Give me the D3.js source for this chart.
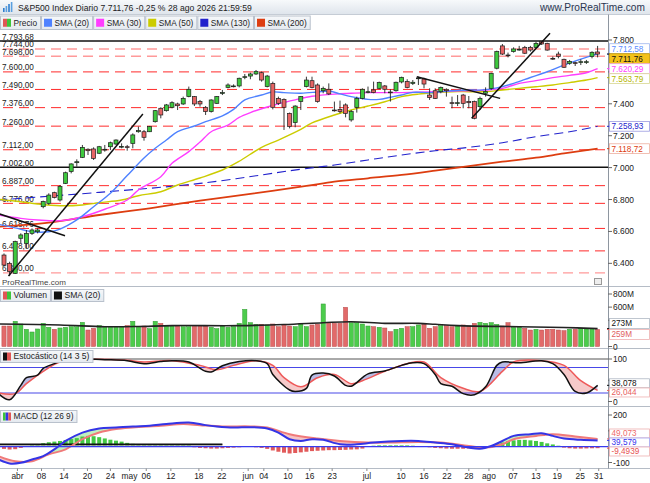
<!DOCTYPE html>
<html><head><meta charset="utf-8">
<script src="https://cdn.jsdelivr.net/npm/d3@7"></script>
<style>body{margin:0;background:#fff}svg{display:block;font-family:"Liberation Sans",Arial,sans-serif}</style>
</head><body><svg id="c" width="650" height="483"></svg>
<script>
// ---------------- DATA ----------------
const titleText = "S&P500 Index Diario 7.711,76 -0,25 % 28 ago 2026 21:59:59";
const siteText = "www.ProRealTime.com";
const opens = [6452,6400,6337,6557,6525,6588,6598,6755,6776,6843,6797,6901,6975,7031,7064,7115,7117,7090,7110,7131,7148,7131,7131,7152,7225,7225,7225,7288,7372,7357,7378,7399,7399,7445,7445,7414,7378,7351,7403,7466,7503,7508,7512,7566,7574,7587,7595,7508,7528,7434,7428,7340,7282,7414,7508,7545,7518,7482,7491,7361,7365,7393,7299,7378,7434,7470,7487,7497,7512,7474,7482,7537,7539,7528,7558,7556,7455,7482,7476,7491,7407,7403,7455,7414,7414,7382,7466,7497,7623,7763,7706,7727,7740,7754,7754,7754,7790,7779,7685,7712,7679,7654,7658,7660,7660,7696,7725];
const highs = [6462,6410,6542,6588,6609,6619,6619,6793,6839,6849,6891,6975,7027,7052,7142,7121,7127,7136,7142,7163,7177,7152,7142,7215,7257,7236,7261,7361,7378,7399,7416,7407,7445,7508,7449,7424,7386,7428,7449,7487,7528,7522,7564,7587,7595,7612,7602,7581,7539,7445,7434,7345,7391,7449,7570,7570,7528,7508,7528,7414,7420,7403,7361,7445,7497,7508,7539,7539,7518,7491,7539,7570,7554,7549,7570,7564,7497,7497,7508,7497,7445,7455,7462,7449,7420,7445,7503,7595,7733,7775,7721,7754,7763,7763,7763,7790,7793.68,7783,7696,7727,7683,7675,7664,7679,7675,7729,7763];
const lows = [6379,6320,6333,6525,6494,6578,6588,6745,6766,6807,6787,6897,6964,7006,7060,7079,7048,7085,7100,7110,7142,7121,7106,7121,7219,7169,7223,7282,7309,7351,7372,7361,7393,7441,7386,7382,7330,7345,7399,7455,7497,7503,7503,7554,7554,7581,7539,7503,7365,7393,7236,7246,7253,7361,7503,7497,7407,7466,7455,7351,7340,7315,7288,7345,7428,7466,7466,7491,7466,7414,7476,7528,7497,7518,7518,7497,7424,7430,7466,7445,7372,7386,7372,7372,7303,7361,7445,7487,7616,7706,7691,7721,7733,7712,7727,7748,7769,7733,7675,7685,7625,7645,7637,7643,7650,7685,7691];
const closes = [6389,6348,6536,6578,6588,6609,6609,6787,6828,6812,6881,6968,7023,7037,7127,7106,7058,7131,7115,7156,7173,7133,7129,7205,7232,7190,7257,7357,7330,7393,7407,7388,7434,7491,7399,7399,7351,7424,7445,7470,7518,7512,7560,7570,7587,7602,7549,7574,7378,7403,7378,7257,7386,7445,7549,7503,7414,7497,7462,7359,7351,7340,7351,7434,7491,7476,7470,7533,7491,7470,7535,7566,7503,7535,7562,7524,7439,7434,7503,7482,7403,7407,7403,7407,7309,7434,7476,7591,7727,7712,7702,7744,7742,7717,7737,7779,7775,7737,7681,7696,7629,7666,7654,7664,7664,7723,7711.76];
const volumes = [312,312,384,343,262,221,267,353,292,262,282,292,302,302,368,251,277,318,302,302,302,302,318,384,302,312,272,384,353,318,318,312,302,302,318,318,312,292,272,312,292,302,353,566,363,338,338,328,343,302,338,312,302,343,302,328,338,648,363,353,353,597,363,363,343,312,302,292,282,226,262,277,302,302,328,338,277,302,318,318,302,312,328,312,353,368,353,363,338,312,363,292,292,277,251,262,251,262,262,251,241,262,262,277,267,277,259];
// [day index, value]
const sma20 = [[-1,6645],[2,6622],[5,6598],[8,6598],[10,6615],[13,6672],[16,6755],[19,6839],[22,6950],[25,7060],[27,7121],[29,7173],[31,7225],[34,7261],[36,7288],[39,7324],[41,7365],[43,7424],[46,7455],[48,7474],[50,7470],[53,7466],[56,7474],[58,7480],[60,7462],[62,7445],[65,7428],[67,7428],[69,7441],[71,7455],[73,7472],[76,7470],[78,7476],[80,7482],[83,7487],[85,7486],[88,7500],[91,7528],[94,7565],[97,7601],[100,7643],[103,7680],[106,7712.58]];
const sma30 = [[-1,6703],[3,6682],[6,6672],[10,6667],[14,6692],[18,6739],[22,6797],[24,6860],[28,6943],[30,7027],[33,7100],[35,7160],[37,7225],[40,7267],[42,7315],[44,7345],[47,7380],[49,7400],[52,7425],[55,7447],[59,7461],[62,7466],[65,7470],[68,7470],[71,7470],[74,7472],[77,7476],[80,7480],[83,7482],[86,7487],[89,7497],[92,7528],[95,7545],[98,7564],[101,7578],[104,7595],[106,7620.29]];
const sma50 = [[-1,6801],[3,6786],[6,6772],[10,6761],[14,6766],[17,6780],[21,6797],[24,6824],[28,6849],[31,6891],[35,6935],[39,6985],[42,7040],[46,7127],[49,7173],[53,7240],[55,7280],[59,7330],[62,7361],[65,7386],[68,7413],[71,7445],[74,7461],[77,7470],[80,7476],[83,7476],[86,7476],[89,7487],[92,7497],[95,7507],[98,7518],[101,7533],[104,7549],[106,7563.79]];
const sma130 = [[-1,6797],[17,6845],[35,6901],[53,6990],[59,7016],[65,7048],[71,7079],[77,7106],[83,7127],[89,7156],[95,7194],[101,7225],[106,7258.93]];
const sma200 = [[-1,6630],[8,6655],[17,6703],[26,6745],[35,6793],[44,6835],[54,6885],[59,6912],[65,6933],[71,6954],[77,6981],[83,7010],[89,7037],[95,7062],[100,7089],[106,7118.72]];
const volSma = [[-1,343],[10,328],[18,302],[24,305],[30,318],[42,318],[50,335],[57,363],[62,378],[68,353],[74,353],[77,338],[81,318],[92,302],[100,290],[106,273]];
const stochK = [[-1,18.5],[1,4],[3,38],[4,56],[6,62],[7,78],[9,89],[11,98.5],[14,100],[18,98.5],[22,96],[25,89],[28,94],[30,96],[33,93],[36,71],[37,69.5],[39,84],[42,94],[45,96],[47,89],[48,63.6],[51,27],[52,23.6],[54,31],[55,62],[57,67],[59,60],[61,38],[62,36],[65,65],[68,72],[71,85],[73,91],[75,89],[77,63.6],[78,42],[80,36],[82,18.5],[84,16],[86,34.5],[88,85],[89,93],[92,91],[96,96],[98,89],[100,63.6],[102,23.6],[104,20],[106,38.078]];
const stochD = [[-1,20],[2,18.5],[4,42],[7,71],[10,93],[14,98.5],[22,97],[25,93],[30,96],[35,85],[38,74.5],[41,85],[45,96],[48,85],[50,56],[53,34.5],[56,56],[59,63.6],[62,42],[64,49],[68,71],[72,89],[75,93],[78,56],[82,31],[85,23.6],[89,71],[91,93],[96,96],[100,85],[103,49],[106,26.044]];
const macdLine = [[-1,-81],[1,-106],[3,-102],[5,-81],[7,-60],[9,-17],[11,36],[14,89],[17,115],[20,121],[23,128],[26,132],[29,143],[33,153],[36,136],[38,128],[41,121],[44,123],[47,115],[49,89],[51,47],[53,36],[55,47],[57,43],[60,15],[63,15],[66,26],[71,36],[74,36],[77,26],[80,15],[83,-6],[85,-13],[87,4],[89,36],[91,68],[94,79],[96,85],[98,68],[100,51],[103,43],[106,39.579]];
const macdSignal = [[-1,-60],[2,-92],[5,-92],[8,-49],[11,-17],[14,47],[17,89],[20,111],[23,121],[28,132],[32,143],[35,136],[39,128],[44,128],[47,121],[51,79],[56,51],[60,36],[65,26],[69,26],[74,30],[78,26],[83,4],[86,-6],[89,15],[91,47],[95,68],[98,79],[102,64],[106,49.073]];
const macdHist = [-14,-18,-16,-8,4,10,16,22,28,32,36,42,48,54,64,68,66,60,52,44,38,32,24,18,15,14,14,14,13,13,13,12,12,12,-4,-8,-10,-12,-12,-10,-8,-6,-4,-2,-2,-4,-8,-14,-24,-32,-38,-43,-40,-36,-32,-28,-26,-24,-22,-22,-21,-20,-18,-17,-12,2,6,8,8,8,8,8,8,6,4,2,-4,-8,-10,-12,-13,-13,-13,-12,-14,-12,-8,4,16,26,34,40,43,43,40,36,30,21,14,6,-6,-10,-12,-12,-11,-10,-9.4939];
const macdDrawn = [[[-1,16],[39,16]],[[-1,11],[39,11]]];
const trendLines = [[[0.8,6320],[24.8,7336]],[[-1,6712],[10.9,6573]],[[73.7,7570],[88.6,7434]],[[83.5,7309],[97.5,7842]]];
const majorLevels = [7793.68,7002];
const softLevels = [7744,7698,6340];
const redLevels = [7600,7490,7376,7260,7112,6887,6776,6618.76,6478];
const priceTicks = [6400,6600,6800,7000,7200,7400,7600,7800];
const volTicks = [0,400,600,800];
const stochTicks = [0,50,100];
const macdTicks = [-100,100,200];
const xTickIdx = [2.4,6.7,10.7,14.9,19,22.4,25.4,29.8,34.8,38.9,43.6,46.4,50.7,54.6,58.6,64.8,70.9,75,79.1,83,86.6,90.9,95,98.8,102.9,106.2];
const xTickLabels = ["abr","08","14","20","24","may","06","12","18","22","jun","04","10","16","23","jul","10","16","22","28","ago","07","13","19","25","31"];
const priceLegend = ["Precio","SMA (20)","SMA (30)","SMA (50)","SMA (130)","SMA (200)"];
const lastPrice = 7711.76;
const lastVol = 259, lastVolSma = 273;

// ---------------- SETUP ----------------
const svg = d3.select("#c");
const loc = d3.formatLocale({decimal:",",thousands:".",grouping:[3],currency:["",""],minus:"-"});
const f2 = loc.format(",.2f"), f0 = loc.format(",.0f"), f3 = loc.format(".3f"), f4 = loc.format(".4f");
const AX = 608;
const x = d3.scaleLinear().domain([0,106]).range([4,597.6]);
const yP = d3.scaleLinear().domain([6340,7800]).range([272.9,40]);
const yV = d3.scaleLinear().domain([0,800]).range([346.5,294]);
const yS = d3.scaleLinear().domain([0,100]).range([401.5,359]);
const yM = d3.scaleLinear().domain([-100,200]).range([462.5,415]);
const panels = {main:[14,286.5], vol:[286.5,348.5], sto:[348.5,406.5], mac:[406.5,468.5]};
const defs = svg.append("defs");
Object.entries(panels).forEach(([k,[a,b]])=>{
  defs.append("clipPath").attr("id","cl_"+k).append("rect").attr("x",0).attr("y",a).attr("width",AX).attr("height",b-a);
});
const grad = defs.append("linearGradient").attr("id","hg").attr("x1",0).attr("y1",0).attr("x2",0).attr("y2",1);
grad.append("stop").attr("offset","0").attr("stop-color","#f7f9fb");
grad.append("stop").attr("offset","1").attr("stop-color","#dfe5ec");
const lg = defs.append("linearGradient").attr("id","lg").attr("x1",0).attr("y1",0).attr("x2",0).attr("y2",1);
lg.append("stop").attr("offset","0").attr("stop-color","#f6f8fa");
lg.append("stop").attr("offset","1").attr("stop-color","#e4e9ef");

svg.append("rect").attr("width",650).attr("height",483).attr("fill","#fff");

const lineOf = (ys, curve=d3.curveCatmullRom) => d3.line().x(d=>x(d[0])).y(d=>ys(d[1])).curve(curve);
function fit(sel, target){
  const fs = +sel.attr("font-size");
  const w = sel.node().getComputedTextLength();
  if (w > 0) sel.attr("font-size", (fs*target/w).toFixed(2));
  return sel;
}

// ---------------- HEADER ----------------
svg.append("rect").attr("x",0).attr("y",0).attr("width",650).attr("height",14).attr("fill","url(#hg)");
svg.append("line").attr("x1",0).attr("x2",650).attr("y1",14.5).attr("y2",14.5).attr("stroke","#c5ccd5");
[4,6,8,10].forEach((h,k)=>svg.append("rect").attr("x",3+k*2.6).attr("y",12-h).attr("width",1.6).attr("height",h).attr("fill",k%2?"#5aa0e0":"#2f7fd0"));
fit(svg.append("text").attr("x",18).attr("y",10.6).attr("font-size",9).attr("fill","#222").text(titleText), 234);
fit(svg.append("text").attr("x",540).attr("y",10.6).attr("font-size",9).attr("fill","#2a3550").text(siteText), 105);

// legend helper
function legend(items, y0, h, fs){
  let cx = 0;
  items.forEach(it=>{
    const g = svg.append("g");
    const r = g.append("rect").attr("x",cx+0.5).attr("y",y0+0.5).attr("height",h).attr("fill","url(#lg)").attr("stroke","#b9c1cc");
    it.icon(g, cx+3, y0+(h-8)/2+0.5);
    const t = g.append("text").attr("x",cx+13.5).attr("y",y0+h/2+3.4).attr("font-size",fs).attr("fill","#1e1e1e").text(it.label);
    const w = 13.5 + t.node().getComputedTextLength() + 3;
    r.attr("width",w);
    cx += w + 1;
  });
}
const sq = c => (g,px,py)=>g.append("rect").attr("x",px).attr("y",py).attr("width",8).attr("height",8).attr("fill",c);
const split = (cs) => (g,px,py)=>cs.forEach((c,k)=>g.append("rect").attr("x",px+k*8/cs.length).attr("y",py).attr("width",8/cs.length).attr("height",8).attr("fill",c));

// ---------------- MAIN PANEL ----------------
const smaColors = ["#4f82ff","#ff3dff","#cccc00","#2222cc","#dd3d10"];
legend([
  {label:priceLegend[0], icon:split(["#e05656","#3cc43c"])},
  {label:priceLegend[1], icon:sq(smaColors[0])},
  {label:priceLegend[2], icon:sq(smaColors[1])},
  {label:priceLegend[3], icon:sq(smaColors[2])},
  {label:priceLegend[4], icon:sq(smaColors[3])},
  {label:priceLegend[5], icon:sq(smaColors[4])}
], 15.5, 13.5, 8.3);

const gm = svg.append("g").attr("clip-path","url(#cl_main)");
redLevels.forEach(v=>gm.append("line").attr("x1",3).attr("x2",AX).attr("y1",yP(v)).attr("y2",yP(v)).attr("stroke","#ff2a2a").attr("stroke-width",1).attr("stroke-dasharray","10,6"));
softLevels.forEach(v=>gm.append("line").attr("x1",3).attr("x2",AX).attr("y1",yP(v)).attr("y2",yP(v)).attr("stroke","#ff9a9a").attr("stroke-width",1.4).attr("stroke-dasharray","10,6"));
majorLevels.forEach(v=>gm.append("line").attr("x1",0).attr("x2",AX).attr("y1",yP(v)).attr("y2",yP(v)).attr("stroke","#111").attr("stroke-width",1.5));
majorLevels.concat(softLevels, redLevels).forEach(v=>{
  gm.append("text").attr("x",2).attr("y",yP(v)-1.5).attr("font-size",8.2).attr("fill","#222").text(f2(v));
});
[[sma200,4,1.8,null],[sma130,3,1.1,"9,5"],[sma50,2,1.4,null],[sma30,1,1.4,null],[sma20,0,1.4,null]].forEach(([d,ci,w,da])=>{
  gm.append("path").attr("d",lineOf(yP)(d)).attr("fill","none").attr("stroke",smaColors[ci]).attr("stroke-width",w).attr("stroke-dasharray",da);
});
const idx = d3.range(opens.length);
const up = i => closes[i] >= opens[i];
gm.selectAll(".wk").data(idx).join("line").attr("x1",i=>x(i)).attr("x2",i=>x(i)).attr("y1",i=>yP(highs[i])).attr("y2",i=>yP(lows[i])).attr("stroke","#222").attr("stroke-width",0.9);
gm.selectAll(".bd").data(idx).join("rect")
  .attr("x",i=>x(i)-2).attr("width",4)
  .attr("y",i=>yP(Math.max(opens[i],closes[i])))
  .attr("height",i=>Math.max(0.8,Math.abs(yP(opens[i])-yP(closes[i]))))
  .attr("fill",i=>up(i)?"#3ec83e":"#e66464").attr("stroke","#1d1d1d").attr("stroke-width",0.7);
trendLines.forEach(t=>gm.append("path").attr("d",lineOf(yP,d3.curveLinear)(t)).attr("stroke","#111").attr("stroke-width",1.5).attr("fill","none"));
fit(svg.append("text").attr("x",2).attr("y",284.5).attr("font-size",9).attr("fill","#444").text("ProRealTime.com"), 64);
svg.append("rect").attr("x",594.5).attr("y",278.5).attr("width",7).attr("height",6).attr("fill","#eee").attr("stroke","#999");

// ---------------- VOLUME ----------------
const gv = svg.append("g").attr("clip-path","url(#cl_vol)");
gv.selectAll(".vb").data(idx).join("rect")
  .attr("x",i=>x(i)-2.1).attr("width",4.2)
  .attr("y",i=>yV(volumes[i])).attr("height",i=>yV(0)-yV(volumes[i]))
  .attr("fill",i=>up(i)?"#4ccc4c":"#e26a6a").attr("stroke",i=>up(i)?"#2f9a2f":"#b84a4a").attr("stroke-width",0.5);
gv.append("path").attr("d",lineOf(yV)(volSma)).attr("fill","none").attr("stroke","#222").attr("stroke-width",1.6);
legend([{label:"Volumen",icon:split(["#e05656","#3cc43c"])},{label:"SMA (20)",icon:sq("#111")}], 289, 12, 8.6);

// ---------------- STOCHASTIC ----------------
const gs = svg.append("g").attr("clip-path","url(#cl_sto)");
function diffFill(g, a, b, ys, cAbove, cBelow, id, top, bot){
  const L = lineOf(ys);
  const poly = L(a) + "L" + L(b.slice().reverse()).slice(1) + "Z";
  const bl = L(b);
  const x0 = x(b[0][0]), x1 = x(b[b.length-1][0]);
  defs.append("clipPath").attr("id",id+"a").append("path").attr("d",bl+`L${x1},${top}L${x0},${top}Z`);
  defs.append("clipPath").attr("id",id+"b").append("path").attr("d",bl+`L${x1},${bot}L${x0},${bot}Z`);
  g.append("path").attr("d",poly).attr("fill",cAbove).attr("clip-path",`url(#${id}a)`);
  g.append("path").attr("d",poly).attr("fill",cBelow).attr("clip-path",`url(#${id}b)`);
}
diffFill(gs, stochK, stochD, yS, "#b9bce6", "#f6c9c9", "sf", 300, 420);
gs.append("line").attr("x1",0).attr("x2",AX).attr("y1",yS(100)).attr("y2",yS(100)).attr("stroke","#555").attr("stroke-width",1);
[80,20].forEach(v=>gs.append("line").attr("x1",0).attr("x2",AX).attr("y1",yS(v)).attr("y2",yS(v)).attr("stroke","#4848e8").attr("stroke-width",1.1));
gs.append("path").attr("d",lineOf(yS)(stochD)).attr("fill","none").attr("stroke","#ee5a5a").attr("stroke-width",1.5);
gs.append("path").attr("d",lineOf(yS)(stochK)).attr("fill","none").attr("stroke","#111").attr("stroke-width",1.5);
legend([{label:"Estocástico (14 3 5)",icon:split(["#111","#e05656"])}], 350, 12, 8.6);

// ---------------- MACD ----------------
const gc = svg.append("g").attr("clip-path","url(#cl_mac)");
diffFill(gc, macdLine, macdSignal, yM, "#bff0bf", "#f5c4c4", "mf", 380, 480);
gc.selectAll(".hb").data(idx).join("rect")
  .attr("x",i=>x(i)-2).attr("width",4)
  .attr("y",i=>Math.min(yM(0),yM(macdHist[i]))).attr("height",i=>Math.abs(yM(macdHist[i])-yM(0)))
  .attr("fill",i=>macdHist[i]>=0?"#44c844":"#e25a5a");
gc.append("path").attr("d",lineOf(yM,d3.curveLinear)(macdDrawn[1])).attr("stroke","#9a9a9a").attr("stroke-width",1.5);
gc.append("path").attr("d",lineOf(yM,d3.curveLinear)(macdDrawn[0])).attr("stroke","#111").attr("stroke-width",1.5);
gc.append("path").attr("d",lineOf(yM)(macdSignal)).attr("fill","none").attr("stroke","#f07a7a").attr("stroke-width",2);
gc.append("path").attr("d",lineOf(yM)(macdLine)).attr("fill","none").attr("stroke","#3434e6").attr("stroke-width",2);
gc.append("line").attr("x1",0).attr("x2",AX).attr("y1",yM(0)).attr("y2",yM(0)).attr("stroke","#3a3aee").attr("stroke-width",1.2);
legend([{label:"MACD (12 26 9)",icon:split(["#3cc43c","#3434e6","#e05656"])}], 410, 12, 8.3);

// ---------------- FRAME ----------------
[286.5,348.5,406.5,468.5].forEach(yy=>svg.append("line").attr("x1",0).attr("x2",650).attr("y1",yy).attr("y2",yy).attr("stroke","#b5bcc6"));
svg.append("line").attr("x1",AX+0.5).attr("x2",AX+0.5).attr("y1",14.5).attr("y2",468.5).attr("stroke","#8e96a0");

// ---------------- RIGHT AXES ----------------
const axisG = svg.append("g").attr("font-size",8.4).attr("fill","#222");
function spread(items, gap){
  items.sort((a,b)=>a.y-b.y);
  for(let it=0; it<40; it++){
    for(let k=1;k<items.length;k++){
      const d = items[k].y - items[k-1].y;
      if(d<gap){ const s=(gap-d)/2; items[k-1].y-=s; items[k].y+=s; }
    }
  }
  return items;
}
function axisWithBoxes(ys, vals, fmt, items, gap, bh){
  spread(items, gap);
  vals.forEach(v=>{
    axisG.append("line").attr("x1",AX).attr("x2",AX+4).attr("y1",ys(v)).attr("y2",ys(v)).attr("stroke","#666");
    const hidden = items.some(b=>Math.abs(b.y-ys(v))<bh/2+3.5);
    if(!hidden) axisG.append("text").attr("x",AX+5).attr("y",ys(v)+3).text(fmt(v));
  });
  items.forEach(b=>{
    axisG.append("line").attr("x1",AX-1).attr("x2",AX+2).attr("y1",b.v).attr("y2",b.v).attr("stroke",b.c);
    axisG.append("rect").attr("x",AX+1.5).attr("y",b.y-bh/2).attr("width",40).attr("height",bh).attr("fill",b.bg||"#fff").attr("stroke",b.bc||"#b0b8c4").attr("stroke-width",0.8);
    axisG.append("text").attr("x",AX+3.5).attr("y",b.y+2.9).attr("font-size",8.2).attr("fill",b.c).text(b.t);
  });
}
const lastOf = a => a[a.length-1][1];
const bx = (ys, v, t, c, bc, bg, nudge=0) => ({y:ys(v)+nudge, v:ys(v), t, c, bc, bg});
axisWithBoxes(yP, priceTicks, f0, [
  bx(yP, lastOf(sma20), f2(lastOf(sma20)), "#5b8cff", "#9fb6ee"),
  bx(yP, lastPrice, f2(lastPrice), "#111", "#c89b00", "#f3c21b", 0.1),
  bx(yP, lastOf(sma30), f2(lastOf(sma30)), "#ff3dff", "#f0a8f0"),
  bx(yP, lastOf(sma50), f2(lastOf(sma50)), "#b5b500", "#d8d890"),
  bx(yP, lastOf(sma130), f2(lastOf(sma130)), "#2222cc", "#9a9ae0"),
  bx(yP, lastOf(sma200), f2(lastOf(sma200)), "#dd3d10", "#eeb0a0")
], 10, 9.8);
axisWithBoxes(yV, volTicks, v=>v===0?"0":v+"M", [
  bx(yV, lastVolSma, lastVolSma+"M", "#111"),
  bx(yV, lastVol, lastVol+"M", "#e06060", "#eeb0b0", null, 0.1)
], 11, 10);
axisWithBoxes(yS, stochTicks, v=>String(v), [
  bx(yS, lastOf(stochK), f3(lastOf(stochK)), "#111"),
  bx(yS, lastOf(stochD), f3(lastOf(stochD)), "#e86060", "#eeb0b0")
], 9.2, 9);
axisWithBoxes(yM, macdTicks, v=>String(v), [
  bx(yM, lastOf(macdSignal), f3(lastOf(macdSignal)), "#ee6a6a", "#eeb0b0"),
  bx(yM, lastOf(macdLine), f3(lastOf(macdLine)), "#3333ee", "#a0a0ee"),
  bx(yM, macdHist[macdHist.length-1], f4(macdHist[macdHist.length-1]), "#e85050", "#eeb0b0")
], 9, 9);

// ---------------- X AXIS ----------------
const xa = svg.append("g").attr("font-size",8.4).attr("fill","#222");
xTickIdx.forEach((i,k)=>{
  xa.append("line").attr("x1",x(i)).attr("x2",x(i)).attr("y1",468.5).attr("y2",471).attr("stroke","#888");
  xa.append("text").attr("x",x(i)).attr("y",478.5).attr("text-anchor","middle").text(xTickLabels[k]);
});
</script></body></html>
